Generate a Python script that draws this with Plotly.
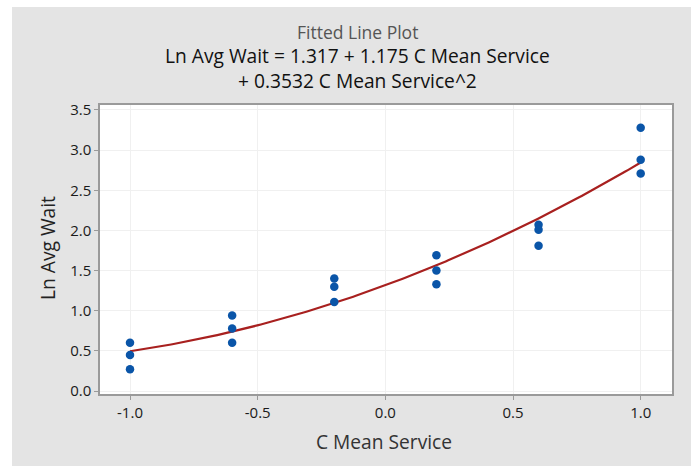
import numpy as np
import plotly.graph_objects as go

# Observed data: coded mean service level vs. log of average wait
c_mean_service = [-1.0, -1.0, -1.0, -0.6, -0.6, -0.6, -0.2, -0.2, -0.2,
                  0.2, 0.2, 0.2, 0.6, 0.6, 0.6, 1.0, 1.0, 1.0]
ln_avg_wait = [0.60, 0.45, 0.27, 0.94, 0.78, 0.60, 1.40, 1.30, 1.11,
               1.69, 1.50, 1.33, 2.07, 2.01, 1.81, 3.28, 2.88, 2.71]

# Quadratic regression coefficients (intercept, linear, quadratic)
coef_b0, coef_b1, coef_b2 = 1.317, 1.175, 0.3532

x_ticks = [-1.0, -0.5, 0.0, 0.5, 1.0]
x_tick_labels = ["-1.0", "-0.5", "0.0", "0.5", "1.0"]
y_ticks = [0.0, 0.5, 1.0, 1.5, 2.0, 2.5, 3.0, 3.5]
y_tick_labels = ["0.0", "0.5", "1.0", "1.5", "2.0", "2.5", "3.0", "3.5"]

# fitted curve over the observed x range
fit_x = np.linspace(min(c_mean_service), max(c_mean_service), 200)
fit_y = coef_b0 + coef_b1 * fit_x + coef_b2 * fit_x ** 2

W, H = 691, 466
ML, MR, MT, MB = 100, 19, 105, 72
PW, PH = W - ML - MR, H - MT - MB


def px_x(px):
    return (px - ML) / PW


def px_y(py):
    return (H - MB - py) / PH


FONT = "Open Sans, Noto Sans, sans-serif"
GRAY_BG = "#e4e4e4"
AXIS_GRAY = "#9a9a9a"

fig = go.Figure()
fig.add_trace(go.Scatter(
    x=fit_x, y=fit_y, mode="lines",
    line=dict(color="#a8201f", width=2.2),
    hoverinfo="skip", showlegend=False,
))
fig.add_trace(go.Scatter(
    x=c_mean_service, y=ln_avg_wait, mode="markers",
    marker=dict(color="#0a55a8", size=8.5),
    showlegend=False,
))

axis_common = dict(
    showline=True, linecolor=AXIS_GRAY, linewidth=1.5, mirror=True,
    ticks="outside", ticklen=4, tickcolor=AXIS_GRAY, tickwidth=1,
    showgrid=True, gridcolor="#f0f0f0", gridwidth=1,
    zeroline=False,
    tickfont=dict(family=FONT, size=15, color="#1a1a1a"),
)

fig.update_xaxes(
    range=[-1.1175, 1.1226], tickvals=x_ticks, ticktext=x_tick_labels,
    **axis_common,
)
fig.update_yaxes(
    range=[-0.037, 3.562], tickvals=y_ticks, ticktext=y_tick_labels,
    **axis_common,
)

annotations = [
    dict(text="Fitted Line Plot", x=px_x(357), y=px_y(32),
         font=dict(family=FONT, size=17.5, color="#555555")),
    dict(text="Ln Avg Wait = 1.317 + 1.175 C Mean Service", x=px_x(357), y=px_y(55.5),
         font=dict(family=FONT, size=19.2, color="#111111")),
    dict(text="+ 0.3532 C Mean Service^2", x=px_x(357), y=px_y(80),
         font=dict(family=FONT, size=19.2, color="#111111")),
    dict(text="C Mean Service", x=px_x(384), y=px_y(441),
         font=dict(family=FONT, size=19.2, color="#333333")),
    dict(text="Ln Avg Wait", x=px_x(47), y=px_y(248), textangle=-90,
         font=dict(family=FONT, size=19.2, color="#222222")),
]
for a in annotations:
    a.update(xref="paper", yref="paper", xanchor="center", yanchor="middle",
             showarrow=False)

shapes = [
    # white strip along the top edge
    dict(type="rect", xref="paper", yref="paper", layer="below",
         x0=px_x(-10), x1=px_x(W + 10), y0=px_y(7), y1=px_y(-10),
         fillcolor="white", line=dict(width=0)),
    # white strip along the left edge
    dict(type="rect", xref="paper", yref="paper", layer="below",
         x0=px_x(-10), x1=px_x(12), y0=px_y(H + 10), y1=px_y(-10),
         fillcolor="white", line=dict(width=0)),
]

fig.update_layout(
    width=W, height=H,
    margin=dict(l=ML, r=MR, t=MT, b=MB),
    paper_bgcolor=GRAY_BG, plot_bgcolor="white",
    annotations=annotations, shapes=shapes,
    font=dict(family=FONT),
)

fig.write_html("out.html")
